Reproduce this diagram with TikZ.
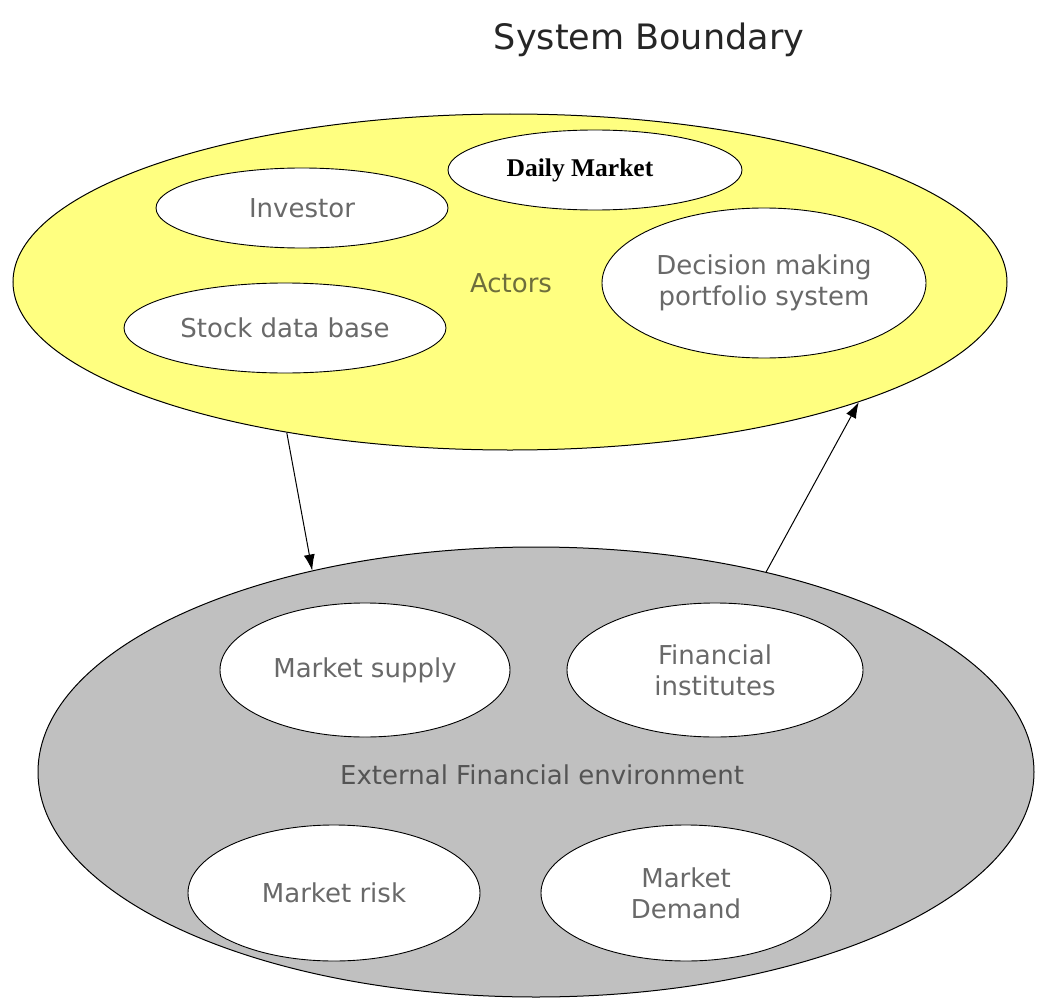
\documentclass[tikz,border=0pt]{standalone}
\usepackage{fontspec}
\setmainfont{DejaVu Sans}
\newfontfamily\dmserif{Liberation Serif}
\usetikzlibrary{shapes.geometric,arrows.meta}
\definecolor{actyellow}{RGB}{255,255,128}
\definecolor{envgray}{RGB}{192,192,192}
\definecolor{txtgray}{RGB}{105,105,105}
\definecolor{actorsol}{RGB}{110,110,60}
\tikzset{
  region/.style={ellipse, draw=black, line width=1pt, inner sep=0pt},
  item/.style={ellipse, draw=black, line width=0.9pt, fill=white, inner sep=0pt,
    text=txtgray, align=center, font=\fontsize{26}{31}\selectfont},
  lbl/.style={inner sep=0pt, font=\fontsize{26}{31}\selectfont},
  flow/.style={draw=black, line width=1pt, -{Latex[length=16pt,width=11pt]}}
}
\begin{document}
\begin{tikzpicture}[x=1pt,y=1pt]
\useasboundingbox (0,0) rectangle (1037,-998);
\node[inner sep=0pt, text=black!85, font=\fontsize{35}{40}\selectfont] (title) at (649,-40) {System Boundary};
% Actors region
\node[region, fill=actyellow, minimum width=994pt, minimum height=336pt] (actors) at (510,-282) {};
\node[lbl, text=actorsol] (actorslbl) at (511,-283) {Actors};
\node[item, minimum width=292pt, minimum height=80pt] (investor) at (302,-208) {Investor};
\node[item, minimum width=322pt, minimum height=90pt] (stock) at (285,-328) {Stock data base};
\node[item, minimum width=294pt, minimum height=80pt, text=black, font=\dmserif\bfseries\fontsize{25.5}{30}\selectfont] (daily) at (595,-170) {Daily Market\hspace*{30pt}};
\node[item, minimum width=324pt, minimum height=150pt] (decision) at (764,-283) {Decision making\\portfolio system};
% Environment region
\node[region, fill=envgray, minimum width=996pt, minimum height=450pt] (env) at (536,-772) {};
\node[lbl, text=txtgray!80!black] (envlbl) at (542,-775) {External Financial environment};
\node[item, minimum width=290pt, minimum height=134pt] (supply) at (365,-670) {Market supply};
\node[item, minimum width=296pt, minimum height=134pt] (fin) at (715,-670) {Financial\\institutes};
\node[item, minimum width=292pt, minimum height=136pt] (risk) at (334,-893) {Market risk};
\node[item, minimum width=290pt, minimum height=136pt] (demand) at (686,-893) {Market\\Demand};
% Flows
\draw[flow] (actors.214) -- (env.138);
\draw[flow] (env.41) -- (actors.341);
\end{tikzpicture}
\end{document}
